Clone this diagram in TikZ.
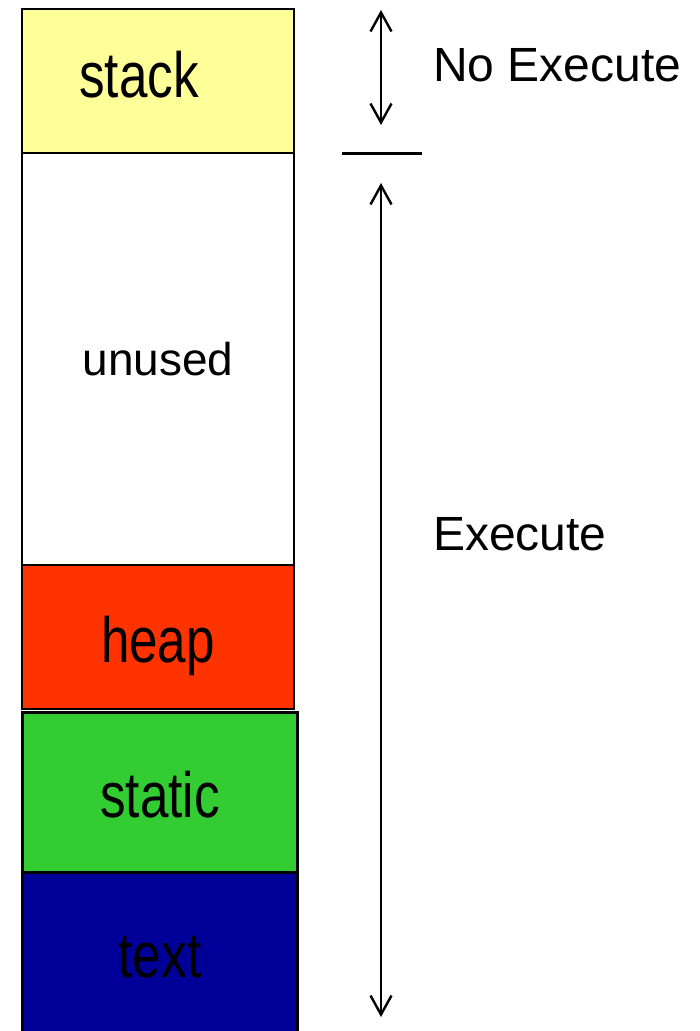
\documentclass[tikz,border=0pt]{standalone}
\usepackage{fontspec}
\setmainfont{Liberation Sans}
\newfontfamily\estreita[FakeStretch=0.8]{Liberation Sans}
\usetikzlibrary{positioning, arrows.meta}

\definecolor{pilha}{HTML}{FFFF99}
\definecolor{monte}{HTML}{FF3300}
\definecolor{estatico}{HTML}{33CC33}
\definecolor{codigo}{HTML}{000099}

\begin{document}
\begin{tikzpicture}[x=1pt, y=-1pt, >={Straight Barb[length=19pt, width=21pt]},
					regiao/.style={draw, rectangle, inner sep=0pt, outer sep=0pt,
						minimum width=272pt, line width=1.5pt},
					rotulo/.style={anchor=base, inner sep=0pt,
						font=\estreita\fontsize{64}{64}\selectfont},
					legenda/.style={anchor=base west, inner sep=0pt,
						font=\fontsize{48}{48}\selectfont} ]
					\useasboundingbox (0,0) rectangle (700,1031);
					
					%Regioes da memoria (de cima para baixo)
					\node[regiao, fill=pilha, minimum height=144pt, anchor=north west] (stack) at (22,9) {};
					\node[regiao, fill=white, minimum height=412pt] (unused) [below=0pt of stack] {};
					\node[regiao, fill=monte, minimum height=144pt] (heap) [below=0pt of unused] {};
					\node[regiao, fill=estatico, minimum width=275pt, minimum height=160pt,
						line width=3pt, anchor=north west] (static) at (22,712) {};
					\node[regiao, fill=codigo, minimum width=275pt, minimum height=175pt,
						line width=3pt] (text) [below=0pt of static] {};
					
					\node[rotulo] (l-stack)  at (139,97)  {stack};
					\node[anchor=base, inner sep=0pt, font=\fontsize{46}{46}\selectfont]
						(l-unused) at (158,375) {unused};
					\node[rotulo] (l-heap)   at (158,662) {heap};
					\node[rotulo] (l-static) at (160,817) {static};
					\node[rotulo] (l-text)   at (160,977) {text};
					
					\node[legenda] (noexec) at (433,81)  {No Execute};
					\node[legenda] (exec)   at (433,550) {Execute};
					
					%Setas:
					\coordinate (ne-topo) at (381,10);
					\coordinate (ne-base) at (381,125);
					\coordinate (div-esq) at (342,153);
					\coordinate (div-dir) at (422,153);
					\coordinate (ex-topo) at (381,183);
					\coordinate (ex-base) at (381,1017);
					
					\draw[<->, line width=2.4pt] (ne-topo) -- (ne-base);
					\draw[line width=3pt] (div-esq) -- (div-dir);
					\draw[<->, line width=2.4pt] (ex-topo) -- (ex-base);
				\end{tikzpicture}
\end{document}
